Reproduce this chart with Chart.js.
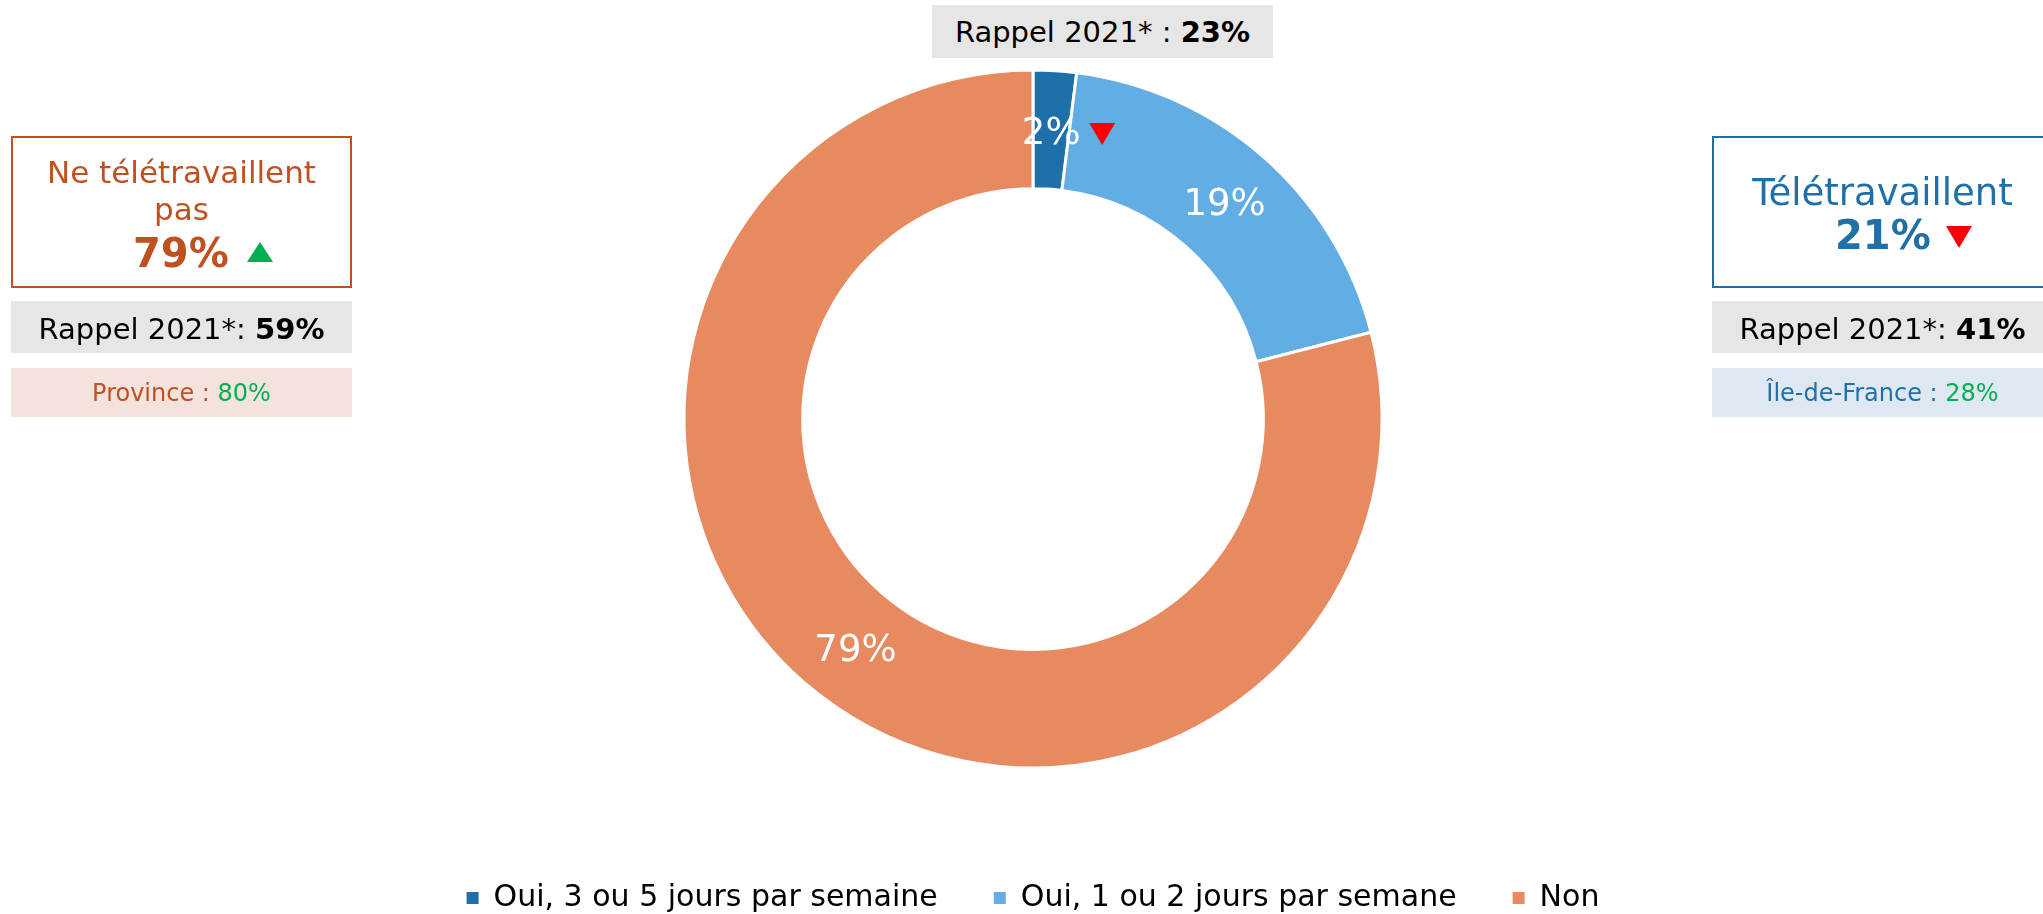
<!DOCTYPE html>
<html lang="fr">
<head>
<meta charset="utf-8">
<script src="https://cdn.jsdelivr.net/npm/chart.js@4/dist/chart.umd.min.js"></script>
<style>
body { margin: 0; background: #fff; overflow: hidden; font-family: "DejaVu Sans", Verdana, sans-serif; }
#wrap { position: relative; width: 2043px; height: 914px; overflow: hidden; }
#wrap canvas { position: absolute; left: 0; top: 0; }
.box { position: absolute; box-sizing: border-box; }
.txt { position: absolute; white-space: nowrap; line-height: 1.164; }
.c { text-align: center; }
.up { position: absolute; width: 0; height: 0; border-left: 13px solid transparent; border-right: 13px solid transparent; border-bottom: 20px solid #00B050; }
.down { position: absolute; width: 0; height: 0; border-left: 13px solid transparent; border-right: 13px solid transparent; border-top: 22px solid #FF0000; }
</style>
</head>
<body>
<div id="wrap">
  <canvas id="chart"></canvas>

  <!-- rappel au-dessus de l'anneau -->
  <div class="box" style="left:932px;top:5px;width:341px;height:53px;background:#E7E6E6;"></div>
  <div class="txt c" style="left:932px;top:16px;width:341px;font-size:29px;color:#000;">Rappel 2021* : <b>23%</b></div>

  <!-- bloc gauche -->
  <div class="box" style="left:11px;top:136px;width:341px;height:152px;border:2px solid #BF5020;"></div>
  <div class="txt c" style="left:11px;top:154px;width:341px;font-size:31px;color:#BF5020;">Ne télétravaillent</div>
  <div class="txt c" style="left:11px;top:191px;width:341px;font-size:31px;color:#BF5020;">pas</div>
  <div class="txt" style="left:133px;top:230px;font-size:40px;font-weight:bold;color:#BF5020;">79%</div>
  <div class="up" style="left:247px;top:242px;"></div>
  <div class="box" style="left:11px;top:301px;width:341px;height:52px;background:#E7E6E6;"></div>
  <div class="txt c" style="left:11px;top:313px;width:341px;font-size:29px;color:#000;">Rappel 2021*: <b>59%</b></div>
  <div class="box" style="left:11px;top:368px;width:341px;height:49px;background:#F4E2DC;"></div>
  <div class="txt c" style="left:11px;top:380px;width:341px;font-size:24px;color:#BF5020;">Province : <span style="color:#00B050;">80%</span></div>

  <!-- bloc droit -->
  <div class="box" style="left:1712px;top:136px;width:341px;height:152px;border:2px solid #1F70A9;"></div>
  <div class="txt c" style="left:1712px;top:171px;width:341px;font-size:37px;color:#1F70A9;">Télétravaillent</div>
  <div class="txt" style="left:1835px;top:212px;font-size:40px;font-weight:bold;color:#1F70A9;">21%</div>
  <div class="down" style="left:1946px;top:226px;"></div>
  <div class="box" style="left:1712px;top:301px;width:341px;height:52px;background:#E7E6E6;"></div>
  <div class="txt c" style="left:1712px;top:313px;width:341px;font-size:29px;color:#000;">Rappel 2021*: <b>41%</b></div>
  <div class="box" style="left:1712px;top:368px;width:341px;height:49px;background:#DEE8F3;"></div>
  <div class="txt c" style="left:1712px;top:380px;width:341px;font-size:24px;color:#1F70A9;">Île-de-France : <span style="color:#00B050;">28%</span></div>
</div>

<script>
var categories = ['Oui, 3 ou 5 jours par semaine', 'Oui, 1 ou 2 jours par semane', 'Non'];
var values = [2, 19, 79];
var colors = ['#1F70A9', '#62ADE3', '#E88A5F'];
var trends = ['down', '', ''];

var FONT = '"DejaVu Sans", Verdana, sans-serif';

// pourcentages dans les parts
var sliceLabels = {
    id: 'sliceLabels',
    afterDatasetsDraw: function(chart) {
        var ctx = chart.ctx;
        var meta = chart.getDatasetMeta(0);
        ctx.save();
        ctx.font = '37px ' + FONT;
        ctx.textAlign = 'center';
        ctx.textBaseline = 'middle';
        meta.data.forEach(function(arc, i) {
            var p = arc.tooltipPosition();
            var y = p.y + 4;
            ctx.fillStyle = '#fff';
            ctx.fillText(values[i] + '%', p.x, y);
            if (trends[i] === 'down') {
                var tx = p.x + 51, ty = y;
                ctx.fillStyle = '#FF0000';
                ctx.beginPath();
                ctx.moveTo(tx - 13, ty - 11);
                ctx.lineTo(tx + 13, ty - 11);
                ctx.lineTo(tx, ty + 11);
                ctx.closePath();
                ctx.fill();
            }
        });
        ctx.restore();
    }
};

var ctx = document.getElementById('chart').getContext('2d');

var chart = new Chart(ctx, {
    type: 'doughnut',
    data: {
        labels: categories,
        datasets: [{
            data: values,
            backgroundColor: colors,
            borderColor: '#fff',
            borderWidth: 3
        }]
    },
    options: {
        responsive: true,
        maintainAspectRatio: false,
        animation: false,
        cutout: '66%',
        radius: 349,
        layout: { padding: { top: 11, left: 23, right: 0, bottom: -9 } },
        plugins: {
            legend: {
                position: 'bottom',
                labels: {
                    color: '#000',
                    font: { family: FONT, size: 30 },
                    boxWidth: 12,
                    boxHeight: 12,
                    padding: 56,
                    generateLabels: function(c) {
                        var items = Chart.overrides.doughnut.plugins.legend.labels.generateLabels(c);
                        items.forEach(function(it) { it.lineWidth = 0; it.strokeStyle = 'rgba(0,0,0,0)'; });
                        return items;
                    }
                }
            },
            tooltip: { enabled: false }
        }
    },
    plugins: [sliceLabels]
});
</script>
</body>
</html>
